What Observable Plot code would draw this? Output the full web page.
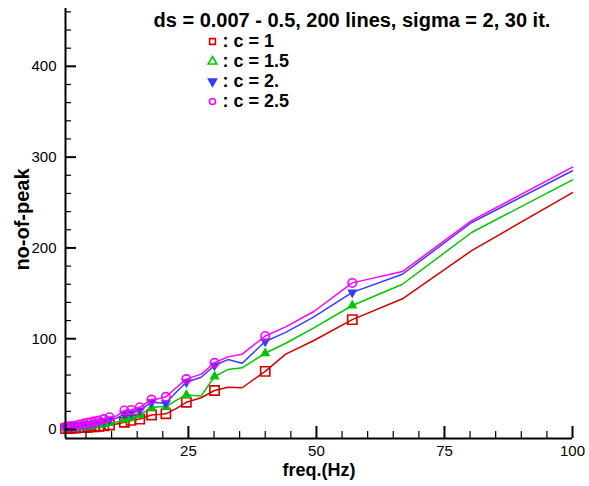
<!DOCTYPE html>
<html>
<head>
<meta charset="utf-8">
<script src="https://cdn.jsdelivr.net/npm/d3@7"></script>
<script src="https://cdn.jsdelivr.net/npm/@observablehq/plot@0.6"></script>
<style>
  html, body { margin: 0; padding: 0; background: #fff; }
  #chart svg { display: block; }
</style>
</head>
<body>
<div id="chart"></div>
<script>
// ---- data ----
const titleText = "ds = 0.007 - 0.5, 200 lines, sigma = 2, 30 it.";
const xLabel = "freq.(Hz)";
const yLabel = "no-of-peak";
const seriesNames = [": c = 1", ": c = 1.5", ": c = 2.", ": c = 2.5"];
const seriesColors = ["#d40000", "#00c800", "#3a3aff", "#ff00ff"];
const xDomain = [1, 100];
const yDomain = [-9.9, 463.7];
const majorX = [25, 50, 75, 100];
const minorX = [5, 10, 15, 20, 30, 35, 40, 45, 55, 60, 65, 70, 80, 85, 90, 95];
const majorY = [0, 100, 200, 300, 400];
const minorY = [20, 40, 60, 80, 120, 140, 160, 180, 220, 240, 260, 280, 320, 340, 360, 380, 420, 440, 460];

const freq = [1, 1.6, 2.3, 3.0, 3.8, 4.6, 5.3, 6.0, 6.7, 7.5, 8.5, 9.6, 11.0, 12.5, 13.8, 15.5, 17.8, 19.2, 20.6, 22.6, 24.6, 27.5, 30.1, 32.7, 35.5, 40, 44, 49.5, 57, 66.8, 80.3, 100];
const hasMarker = [1, 1, 1, 1, 1, 1, 1, 1, 1, 1, 1, 1, 0, 1, 1, 1, 1, 0, 1, 0, 1, 0, 1, 0, 0, 1, 0, 0, 1, 0, 0, 0];
const c1  = [1, 1, 1.5, 1.5, 2, 2, 2.5, 3, 3, 3.5, 4, 5, 6, 8, 10, 11.5, 16, 16.5, 17.3, 23, 30, 35, 43, 46.6, 46, 64, 83, 98, 121, 144, 197, 261];
const c15 = [1.5, 1.5, 2, 2, 2.5, 3, 3.5, 4, 4.5, 5, 6, 7, 8, 11, 13, 16, 24, 25, 25, 32, 38, 37, 58.4, 66, 68, 84, 95, 112, 136.6, 160, 217, 275];
const c2  = [2.5, 3, 3.5, 4, 4.5, 5, 6, 6.5, 7.5, 8, 9.5, 11, 12.5, 17, 18, 21, 30, 29.5, 29, 41, 52, 57.5, 70.5, 77, 73, 97, 107, 124, 151, 171, 228, 285];
const c25 = [3, 3.5, 4, 4.5, 5.5, 6.5, 7.5, 8, 9, 10, 11.5, 13.5, 15, 21, 21.5, 24.5, 33, 34, 36, 46, 55.5, 61, 73.5, 80, 83, 103, 113, 130, 161.5, 174, 230, 289];
const seriesValues = [c1, c15, c2, c25];

// ---- layout constants ----
const W = 589, H = 486, ML = 65, MR = 17, MT = 8, MB = 48;
const frameW = W - ML - MR, frameH = H - MT - MB;
const xPerPx = (xDomain[1] - xDomain[0]) / frameW;
const yPerPx = (yDomain[1] - yDomain[0]) / frameH;

// ---- build tables ----
const rows = [];
seriesValues.forEach((vals, s) => {
  vals.forEach((v, i) => rows.push({f: freq[i], v, series: seriesNames[s], marker: hasMarker[i] === 1}));
});
const markerRows = rows.filter(d => d.marker);
const bySeries = name => markerRows.filter(d => d.series === name);

const font = "'Liberation Sans', Arial, Helvetica, sans-serif";

const legendDefs = [
  {symbol: "square", fill: "none", r: 3.3, rotate: 0},
  {symbol: "triangle", fill: "none", r: 3.2, rotate: 0},
  {symbol: "triangle", fill: seriesColors[2], r: 3.0, rotate: 180},
  {symbol: "circle", fill: "none", r: 3.0, rotate: 0}
];
const plotDefs = [
  {symbol: "square", fill: "none", r: 5.2, rotate: 0, sw: 1.6},
  {symbol: "triangle", fill: seriesColors[1], r: 3.0, rotate: 0, sw: 1.2},
  {symbol: "triangle", fill: seriesColors[2], r: 3.0, rotate: 180, sw: 1.2},
  {symbol: "circle", fill: "none", r: 4.2, rotate: 0, sw: 1.6}
];

const marks = [];
// data lines and markers
seriesNames.forEach((name, s) => {
  marks.push(Plot.line(rows.filter(d => d.series === name), {x: "f", y: "v", stroke: seriesColors[s], strokeWidth: 1.5}));
  const pd = plotDefs[s];
  marks.push(Plot.dot(bySeries(name), {x: "f", y: "v", symbol: pd.symbol, r: pd.r, stroke: seriesColors[s], fill: pd.fill, strokeWidth: pd.sw, rotate: pd.rotate}));
});

// inward ticks (lengths converted from pixels to data units)
const y0 = yDomain[0], x0 = xDomain[0];
marks.push(
  Plot.ruleX(minorX, {x: d => d, y1: y0, y2: y0 + 7 * yPerPx, stroke: "black", strokeWidth: 1.2}),
  Plot.ruleX(majorX, {x: d => d, y1: y0, y2: y0 + 12 * yPerPx, stroke: "black", strokeWidth: 2}),
  Plot.ruleY(minorY, {y: d => d, x1: x0, x2: x0 + 6 * xPerPx, stroke: "black", strokeWidth: 1.2}),
  Plot.ruleY(majorY, {y: d => d, x1: x0, x2: x0 + 11 * xPerPx, stroke: "black", strokeWidth: 2}),
  Plot.ruleX([x0], {stroke: "black", strokeWidth: 2}),
  Plot.ruleY([y0], {stroke: "black", strokeWidth: 2})
);
// tick labels
marks.push(
  Plot.axisX(majorX, {tickSize: 0, tickPadding: 7, label: null, fontSize: 15, letterSpacing: 0.8}),
  Plot.axisY(majorY, {tickSize: 0, tickPadding: 9, label: null, fontSize: 15, letterSpacing: 0.3})
);

// axis titles
marks.push(
  Plot.text([xLabel], {text: d => d, frameAnchor: "bottom", dx: 0, dy: 32, textAnchor: "middle", fontSize: 18, fontWeight: "bold", letterSpacing: 2.2, lineAnchor: "middle"}),
  Plot.text([yLabel], {text: d => d, frameAnchor: "left", dx: -43, dy: -4, rotate: -90, textAnchor: "middle", fontSize: 20, fontWeight: "bold", letterSpacing: 2.5, lineAnchor: "middle"})
);

// title and legend
marks.push(
  Plot.text([titleText], {text: d => d, frameAnchor: "top-left", dx: 88, dy: 12, textAnchor: "start", lineAnchor: "middle", fontSize: 20, letterSpacing: 0.4, fontWeight: "bold"})
);
seriesNames.forEach((name, s) => {
  const ld = legendDefs[s];
  marks.push(
    Plot.dot([name], {frameAnchor: "top-left", dx: 147, dy: 33 + s * 20, symbol: ld.symbol, r: ld.r, stroke: seriesColors[s], fill: ld.fill, strokeWidth: 1.6, rotate: ld.rotate}),
    Plot.text([name], {text: d => d, frameAnchor: "top-left", dx: 157, dy: 33 + s * 20, textAnchor: "start", lineAnchor: "middle", fontSize: 18, letterSpacing: 1.2, fontWeight: "bold"})
  );
});

const chart = Plot.plot({
  width: W,
  height: H,
  marginLeft: ML,
  marginRight: MR,
  marginTop: MT,
  marginBottom: MB,
  style: {fontFamily: font, background: "#fff", color: "black"},
  x: {domain: xDomain, axis: null},
  y: {domain: yDomain, axis: null},
  marks
});
document.getElementById("chart").appendChild(chart);
</script>
</body>
</html>
